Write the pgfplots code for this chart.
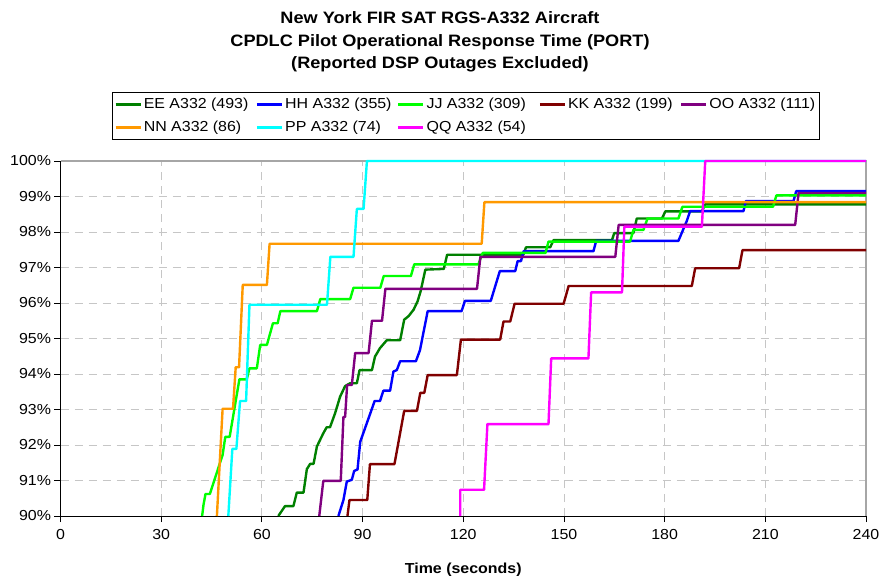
\documentclass[border=0pt]{standalone}
\usepackage{fontspec}
\setmainfont{Liberation Sans}[FakeStretch=1.1]
\usepackage{pgfplots}
\pgfplotsset{compat=1.18}
\definecolor{cEE}{RGB}{0,128,0}
\definecolor{cHH}{RGB}{0,0,255}
\definecolor{cJJ}{RGB}{0,255,0}
\definecolor{cKK}{RGB}{128,0,0}
\definecolor{cOO}{RGB}{128,0,128}
\definecolor{cNN}{RGB}{255,153,0}
\definecolor{cPP}{RGB}{0,255,255}
\definecolor{cQQ}{RGB}{255,0,255}
\newcommand{\lent}[1]{\makebox[110pt][l]{#1}}

\begin{document}
\begin{tikzpicture}
\path[use as bounding box] (-60.5pt,-60pt) rectangle (819.5pt,516pt);
\node[font=\bfseries\fontsize{16.5}{22.5}\selectfont, align=center] at (379.5pt,474pt)
  {New York FIR SAT RGS-A332 Aircraft\\CPDLC Pilot Operational Response Time (PORT)\\(Reported DSP Outages Excluded)};
\begin{axis}[
    at={(0pt,0pt)}, anchor=south west,
    scale only axis, width=805.5pt, height=355pt,
    xmin=0, xmax=240, ymin=90, ymax=100,
    xtick={0,30,...,240}, ytick={90,91,...,100},
    yticklabel={\pgfmathprintnumber[assume math mode=true]{\tick}\%},
    xticklabel={\pgfmathprintnumber[assume math mode=true]{\tick}},
    ticklabel style={font=\fontsize{14.5}{16}\selectfont},
    xticklabel style={yshift=-4pt},
    axis x line*=bottom, axis y line*=left,
    axis line style={black, line width=1pt, -},
    tick align=outside, major tick length=6pt,
    tick style={black, line width=0.8pt},
    grid=major,
    major grid style={gray!45, line width=0.8pt, dash pattern=on 8pt off 6pt},
    xlabel={\bfseries Time (seconds)},
    xlabel style={font=\fontsize{14.5}{16}\selectfont, yshift=-16pt},
    clip=false,
    every axis plot/.append style={line width=2.4pt, line join=round},
    legend columns=5,
    legend cell align=left,
    legend image code/.code={\draw[#1] (0pt,0pt) -- (25pt,0pt);},
    legend style={at={(51.5/805.5,424/355)}, anchor=north west,
      draw=black, line width=0.8pt,
      font=\fontsize{14.5}{16}\selectfont,
      row sep=7pt, inner xsep=2pt, inner ysep=4pt},
]
\draw[gray!70, line width=1.5pt] (axis cs:0,100) -- (axis cs:240,100) -- (axis cs:240,90);

\addplot[cEE] coordinates {
(64.9,90.0)(66.9,90.28)(69.4,90.28)(70.4,90.66)(72.4,90.66)(73.4,91.32)(74.4,91.47)(75.4,91.47)
(76.4,91.96)(78.3,92.33)(79.3,92.50)(80.3,92.50)(81.8,92.89)(83.3,93.36)(84.8,93.66)(86.3,93.74)
(88.3,93.74)(89.1,94.11)(92.8,94.11)(93.7,94.49)(95.2,94.73)(97.2,94.95)(101.2,94.95)(102.4,95.53)
(103.7,95.63)(105.2,95.81)(106.4,96.05)(107.3,96.33)(108.7,96.94)(114.2,96.96)(115.2,97.36)
(137.9,97.36)(138.7,97.57)(145.9,97.57)(146.9,97.77)(164.3,97.77)(165.0,97.97)(170.7,97.97)
(171.7,98.38)(179.2,98.38)(180.2,98.58)(191.1,98.58)(192.1,98.78)(240,98.78)};
\addlegendentry{\lent{EE A332 (493)}}

\addplot[cHH] coordinates {
(82.8,90)(84.3,90.45)(85.3,90.97)(86.8,91.02)(87.5,91.27)(88.5,91.31)(89.3,92.09)(92.3,92.89)
(93.6,93.24)(95.2,93.24)(96.2,93.53)(98.2,93.53)(99.2,94.07)(100.2,94.11)(101.2,94.36)(105.9,94.36)
(107.1,94.67)(109.4,95.77)(119.5,95.77)(120.5,96.06)(128.2,96.06)(130.9,96.90)(135.5,96.90)
(136.2,97.18)(137.2,97.18)(138.0,97.46)(158.8,97.46)(159.6,97.75)(184.1,97.75)(186.6,98.31)
(187.6,98.59)(203.5,98.59)(204.2,98.87)(218.4,98.87)(219.2,99.15)(240,99.15)};
\addlegendentry{\lent{HH A332 (355)}}

\addplot[cJJ] coordinates {
(42.2,90)(42.6,90.31)(43.2,90.62)(44.5,90.62)(46.5,91.2)(48.3,91.72)(49.1,92.23)(50.4,92.23)
(51.6,92.9)(53.3,93.85)(55.5,93.85)(56.3,94.16)(58.5,94.16)(59.5,94.82)(61.5,94.82)(63.3,95.43)
(64.7,95.43)(65.5,95.77)(76.4,95.77)(77.4,96.11)(86.3,96.11)(87.3,96.43)(95.3,96.43)(96.3,96.76)
(104.4,96.76)(105.4,97.09)(124.5,97.09)(125.8,97.41)(144.5,97.41)(145.4,97.73)(169.7,97.73)
(170.7,98.06)(173.7,98.06)(174.9,98.38)(184.1,98.38)(185.3,98.71)(212.3,98.71)(213.3,99.03)(240,99.03)};
\addlegendentry{\lent{JJ A332 (309)}}

\addplot[cKK] coordinates {
(85.5,90)(86.1,90.45)(91.4,90.45)(92.2,91.46)(99.5,91.46)(102.4,92.96)(106.2,92.96)(107.2,93.47)
(108.4,93.47)(109.4,93.97)(118.1,93.97)(119.3,94.97)(131.0,94.97)(132.0,95.48)(134.0,95.48)
(135.3,95.98)(149.9,95.98)(151.4,96.48)(188.1,96.48)(189.1,96.98)(202.2,96.98)(203.2,97.49)(240,97.49)};
\addlegendentry{\lent{KK A332 (199)}}

\addplot[cOO] coordinates {
(77.1,90)(78.3,90.99)(83.5,90.99)(84.3,92.79)(84.8,92.79)(85.4,93.69)(86.8,93.69)(87.8,94.59)
(91.8,94.59)(92.8,95.50)(95.8,95.50)(96.8,96.40)(124.1,96.40)(125.1,97.30)(165.3,97.30)
(166.3,98.20)(218.9,98.20)(219.9,99.10)(240,99.10)};
\addlegendentry{OO A332 (111)}

\addplot[cNN] coordinates {
(46.6,90)(48.3,93.02)(51.4,93.02)(52.2,94.19)(53.2,94.19)(54.3,96.51)(61.5,96.51)(62.3,97.67)
(125.5,97.67)(126.3,98.84)(240,98.84)};
\addlegendentry{\lent{NN A332 (86)}}

\addplot[cPP] coordinates {
(50.0,90)(51.2,91.89)(52.4,91.89)(53.5,93.24)(55.3,93.24)(56.3,95.95)(79.4,95.95)(80.4,97.30)
(87.3,97.30)(88.3,98.65)(90.3,98.65)(91.3,100)(240,100)};
\addlegendentry{\lent{PP A332 (74)}}

\addplot[cQQ] coordinates {
(119.1,90)(119.1,90.74)(126.2,90.74)(127.2,92.59)(145.4,92.59)(146.2,94.44)(157.3,94.44)
(158.1,96.30)(167.3,96.30)(168.0,98.15)(191.1,98.15)(192.1,100)(240,100)};
\addlegendentry{\lent{QQ A332 (54)}}
\end{axis}
\end{tikzpicture}
\end{document}
